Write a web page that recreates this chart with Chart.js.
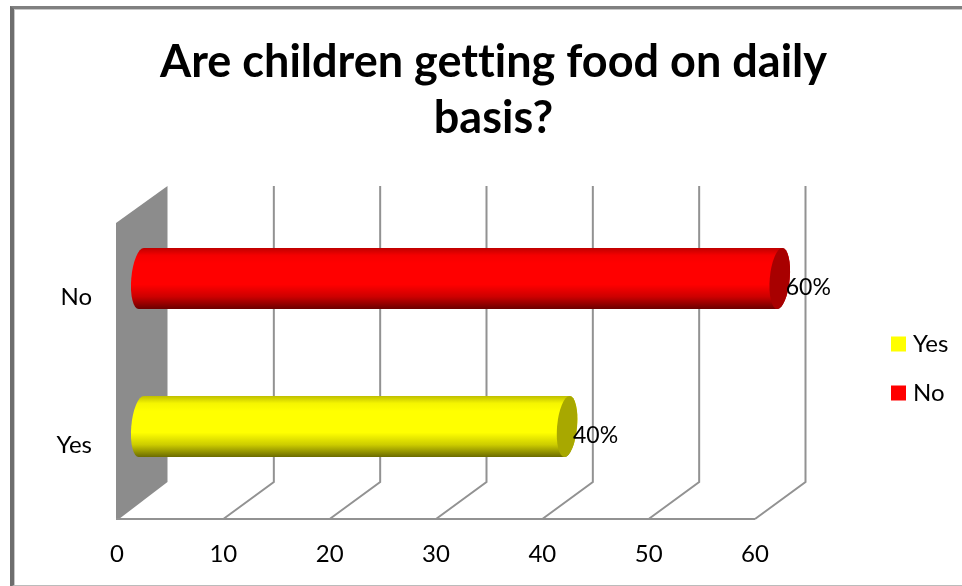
<!doctype html>
<html lang="en">
  <head>
    <meta charset="UTF-8">
    <title>Are children getting food on daily basis?</title>
    <style>
      body { margin:0; background:#fff; overflow:hidden; }
      #frame { position:absolute; left:10px; top:6px; width:960px; height:576px;
               border-left:4px solid #6e6e6e; border-top:3px solid #808080; border-bottom:2px solid #bbb;
               box-shadow:inset 1px 1px 0 #c8c8c8; }
      #chart { position:absolute; left:0; top:0; }
    </style>
  </head>
  <body>
    <div id="frame"></div>
    <canvas id="chart" width="962" height="586"></canvas>

    <script src="https://cdnjs.cloudflare.com/ajax/libs/Chart.js/4.4.1/chart.umd.js"></script>
    <script>
      const titleLines = ["Are children getting food on daily", "basis?"];
      const categories = ["Yes", "No"];
      const yesValues = [40, null];
      const noValues = [null, 60];

      const FONT = "Lato, Carlito, sans-serif";
      // 3D look: how far the back wall sits behind the front of the floor
      const DEPTH_X = 50.5, DEPTH_Y = -37;
      const WALL = "#8c8c8c", GRID = "#929292";

      function shade(color, f) {
        const c = [1, 3, 5].map(i => parseInt(color.substr(i, 2), 16));
        return "rgb(" + c.map(v => Math.min(255, Math.round(v * f))).join(",") + ")";
      }

      // floor, side wall and the gridlines running up the back wall
      function drawWalls(chart) {
        const ctx = chart.ctx, area = chart.chartArea, x = chart.scales.x;
        ctx.save();
        ctx.fillStyle = WALL;
        ctx.beginPath();
        ctx.moveTo(area.left - 1, area.top);
        ctx.lineTo(area.left + DEPTH_X, area.top + DEPTH_Y);
        ctx.lineTo(area.left + DEPTH_X, area.bottom + DEPTH_Y);
        ctx.lineTo(area.left + 2, area.bottom);
        ctx.lineTo(area.left - 1, area.bottom);
        ctx.closePath();
        ctx.fill();

        ctx.strokeStyle = GRID;
        ctx.lineWidth = 2;
        x.ticks.forEach(t => {
          if (t.value === 0) return;
          const px = x.getPixelForValue(t.value);
          ctx.beginPath();
          ctx.moveTo(px, area.bottom);
          ctx.lineTo(px + DEPTH_X, area.bottom + DEPTH_Y);
          ctx.lineTo(px + DEPTH_X, area.top + DEPTH_Y);
          ctx.stroke();
        });
        ctx.beginPath();
        ctx.moveTo(area.left - 1, area.bottom);
        ctx.lineTo(area.right, area.bottom);
        ctx.stroke();
        ctx.restore();
      }

      // slanted ellipse used for both ends of a cylinder
      function capPath(ctx, cx, cy, ry, from, to, ccw) {
        ctx.save();
        ctx.translate(cx, cy);
        ctx.transform(1, 0, -1 / 12, 1, 0, 0);
        ctx.ellipse(0, 0, 10, ry, 0, from, to, ccw);
        ctx.restore();
      }

      function drawCylinder(ctx, bar, color) {
        const y = bar.y + DEPTH_Y / 2, ry = bar.height / 2;
        const x0 = bar.base + DEPTH_X / 2 - 1, x1 = bar.x + DEPTH_X / 2 - 0.5;
        const g = ctx.createLinearGradient(0, y - ry, 0, y + ry);
        g.addColorStop(0, shade(color, 0.75));
        g.addColorStop(0.12, shade(color, 0.96));
        g.addColorStop(0.25, shade(color, 1));
        g.addColorStop(0.6, shade(color, 1));
        g.addColorStop(0.8, shade(color, 0.8));
        g.addColorStop(1, shade(color, 0.42));

        ctx.fillStyle = g;
        ctx.beginPath();
        capPath(ctx, x0, y, ry, -Math.PI / 2, Math.PI / 2, true);
        capPath(ctx, x1, y, ry, Math.PI / 2, -Math.PI / 2, true);
        ctx.closePath();
        ctx.fill();

        ctx.fillStyle = shade(color, 0.66);
        ctx.beginPath();
        capPath(ctx, x1, y, ry, 0, Math.PI * 2, false);
        ctx.fill();
      }

      const cylinderBars = {
        id: "cylinderBars",
        afterLayout(chart) {
          // title is centred on the whole chart object, not on the plot
          chart.titleBlock.left = 25;
          chart.titleBlock.right = 962;
        },
        beforeDraw(chart) {
          // a tiny spacing keeps the "tt" in the title from joining up
          chart.ctx.letterSpacing = "0.01px";
        },
        beforeDatasetsDraw: drawWalls,
        beforeDatasetDraw(chart, args) {
          const ctx = chart.ctx, ds = chart.data.datasets[args.index];
          args.meta.data.forEach((bar, i) => {
            if (ds.data[i] === null) return;
            drawCylinder(ctx, bar, ds.backgroundColor);
            ctx.save();
            ctx.fillStyle = "#000";
            ctx.font = "23px " + FONT;
            ctx.textAlign = "center";
            ctx.textBaseline = "middle";
            ctx.fillText(ds.data[i] + "%", bar.x + DEPTH_X / 2 + 28, bar.y + DEPTH_Y / 2 + 9);
            ctx.restore();
          });
          return false;
        },
        afterDraw(chart) {
          const ctx = chart.ctx;
          ctx.save();
          ctx.font = "24px " + FONT;
          ctx.textBaseline = "middle";
          chart.data.datasets.forEach((ds, i) => {
            const y = 344 + i * 49;
            ctx.fillStyle = ds.backgroundColor;
            ctx.fillRect(891, y - 7.5, 15, 15);
            ctx.fillStyle = "#000";
            ctx.fillText(ds.label, 913, y);
          });
          ctx.restore();
        }
      };

      new Chart(document.getElementById("chart"), {
        type: "bar",
        plugins: [cylinderBars],
        data: {
          labels: categories,
          datasets: [
            { label: "Yes", data: yesValues, backgroundColor: "#ffff00", grouped: false, barThickness: 61 },
            { label: "No", data: noValues, backgroundColor: "#ff0000", grouped: false, barThickness: 61 }
          ]
        },
        options: {
          indexAxis: "y",
          responsive: false,
          animation: false,
          layout: { autoPadding: false, padding: { left: 0, right: 207, top: 0, bottom: 0 } },
          scales: {
            x: {
              min: 0, max: 60,
              grid: { display: false },
              border: { display: false },
              afterFit(scale) { scale.height = 67; },
              ticks: { stepSize: 10, padding: 13, maxRotation: 0, color: "#000", font: { family: FONT, size: 24 } }
            },
            y: {
              reverse: true,
              grid: { display: false },
              border: { display: false },
              afterFit(scale) { scale.width = 117; },
              ticks: { padding: 17, color: "#000", font: { family: FONT, size: 24 } }
            }
          },
          plugins: {
            legend: { display: false },
            tooltip: { enabled: false },
            title: {
              display: true,
              text: titleLines,
              color: "#000",
              font: { family: FONT, size: 45, weight: "bold", lineHeight: 56 / 45 },
              padding: { top: 34, bottom: 77 }
            }
          }
        }
      });
    </script>
  </body>
</html>
